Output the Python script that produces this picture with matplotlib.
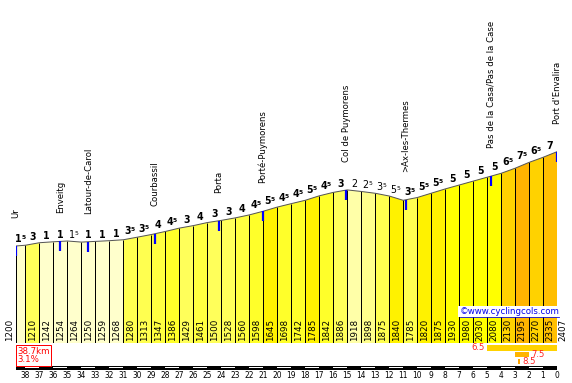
import numpy as np
import matplotlib
matplotlib.use('Agg')
import matplotlib.pyplot as plt

# profile: distance to the top (km) and altitude (m)
km = np.array([38.7, 38, 37, 36, 35, 34, 33, 32, 31, 30, 29, 28, 27, 26, 25, 24, 23, 22, 21, 20,
               19, 18, 17, 16, 15, 14, 13, 12, 11, 10, 9, 8, 7, 6, 5, 4, 3, 2, 1, 0])
alt = np.array([1200, 1210, 1242, 1254, 1264, 1250, 1259, 1268, 1280, 1313, 1347, 1386, 1429, 1461,
                1500, 1528, 1560, 1598, 1645, 1698, 1742, 1785, 1842, 1886, 1918, 1898, 1875, 1840,
                1785, 1820, 1875, 1930, 1980, 2030, 2080, 2130, 2195, 2270, 2335, 2407])

places = ['Ur', 'Enveitg', 'Latour-de-Carol', 'Courbassil', 'Porta', 'Porté-Puymorens',
          'Col de Puymorens', '>Ax-les-Thermes', 'Pas de la Casa/Pas de la Case', "Port d'Envalira"]
place_km = [38.7, 35.5, 33.5, 28.75, 24.2, 21.05, 15.05, 10.8, 4.75, 0]

# steepest parts: gradient, from km, to km
best_grad = [6.5, 7.5, 8.5]
best_from = [5, 3, 2.8]
best_to = [0, 2, 2.65]

cols = {1: '#FFFFCC', 1.5: '#FFFFCC', 2: '#FFFFA8', 2.5: '#FFFF8C', 3: '#FFFF5A', 3.5: '#FFFF50',
        4: '#FFFF40', 4.5: '#FFFF2A', 5: '#FFFF00', 5.5: '#FFF200', 6: '#FFE000', 6.5: '#FFD200',
        7: '#FFBE00', 7.5: '#FFB400', 8: '#FFAA00', 8.5: '#FFA500'}

base = -41.5
fig = plt.figure(figsize=(572/72, 383/72), dpi=72)
ax = fig.add_axes([15.7/572, 40/383, 541.3/572, 343/383])
ax.set_xlim(km[0], 0)
ax.set_ylim(base, 4348.5)
ax.axis('off')

grad = (alt[1:] - alt[:-1]) / (km[:-1] - km[1:]) / 10
rg = np.floor(np.abs(grad) * 2 + 0.5) / 2

for i in range(len(grad)):
    ax.fill([km[i], km[i], km[i+1], km[i+1]], [base, alt[i], alt[i+1], base],
            color=cols[rg[i]], lw=0)
ax.vlines(km, base, alt, color='black', lw=1)
ax.plot(km, alt, color='#555555', lw=1)
ax.hlines(base, km[0], km[-1], color='black', lw=1)

# gradient numbers above each km
for i in range(len(grad)):
    xm = (km[i] + km[i+1]) / 2
    ym = max(alt[i], alt[i+1])
    w = 'bold' if grad[i] > 0 else 'normal'
    whole = int(rg[i])
    if rg[i] - whole > 0:
        ax.annotate(str(whole), (xm, ym), xytext=(0.5, 3), textcoords='offset points',
                    ha='right', va='baseline', fontsize=9.5, fontweight=w)
        ax.annotate('5', (xm, ym), xytext=(0.5, 6), textcoords='offset points',
                    ha='left', va='baseline', fontsize=6, fontweight=w)
    else:
        ax.annotate(str(whole), (xm, ym), xytext=(0, 3), textcoords='offset points',
                    ha='center', va='baseline', fontsize=9.5, fontweight=w)

# altitudes inside the bars
for i in range(1, len(km) - 1):
    ax.annotate(str(alt[i]), ((km[i] + km[i+1]) / 2, base), xytext=(0, 2), textcoords='offset points',
                rotation=90, ha='center', va='bottom', fontsize=8.7)
ax.annotate(str(alt[0]), (km[0], base), xytext=(-6, 2), textcoords='offset points',
            rotation=90, ha='center', va='bottom', fontsize=8.7)
ax.annotate(str(alt[-1]), (km[-1], base), xytext=(6, 2), textcoords='offset points',
            rotation=90, ha='center', va='bottom', fontsize=8.7)

# places
place_alt = np.interp(place_km, km[::-1], alt[::-1])
ax.vlines(place_km, place_alt - 128, place_alt, color='blue', lw=2.2)
for name, k, a in zip(places, place_km, place_alt):
    ax.annotate(name, (k, a), xytext=(0, 28), textcoords='offset points',
                rotation=90, ha='center', va='bottom', fontsize=8.5)

ax.text(1.004, 0.092, '©www.cyclingcols.com', transform=ax.transAxes, ha='right', va='center',
        fontsize=8.6, color='#0000EE', bbox=dict(boxstyle='square,pad=0.1', fc='white', ec='none'))
ax.plot([0.821, 1.004], [0.077, 0.077], transform=ax.transAxes, color='#0000EE', lw=0.8, clip_on=False)

# bottom strip
ax2 = fig.add_axes([15.7/572, 0, 541.3/572, 40/383])
ax2.set_xlim(km[0], 0)
ax2.set_ylim(40, 0)
ax2.axis('off')

ax2.barh(24.75, km[0], left=0, height=4.5, color='black')
for k in range(38, 0, -2):
    ax2.barh(24.25, 1, left=k - 1, height=1.5, color='white')
for k in range(39):
    ax2.text(k, 33, str(k), ha='center', va='center', fontsize=7.5)

rows = [5, 11.8, 18.5]
hs = [6, 5, 5]
for g, a, b, y, h in zip(best_grad, best_from, best_to, rows, hs):
    ax2.barh(y, a - b, left=b, height=h, color=cols[g])
    if b == 0:
        ax2.annotate(str(g), (a, y), xytext=(-2, 0), textcoords='offset points',
                     ha='right', va='center', fontsize=8.5, color='#FF2020')
    else:
        ax2.annotate(str(g), (b, y), xytext=(2, 0), textcoords='offset points',
                     ha='left', va='center', fontsize=8.5, color='#FF2020')

avg = (alt[-1] - alt[0]) / km[0] / 10
ax2.annotate(f'{km[0]:.1f}km\n{avg:.1f}%', (km[0], 0), xytext=(1.5, -3.5), textcoords='offset points',
             ha='left', va='top', fontsize=8.6, color='red', linespacing=1.0,
             bbox=dict(boxstyle='square,pad=0.12', fc='white', ec='red', lw=1))

fig.savefig('out.png', dpi=72)
